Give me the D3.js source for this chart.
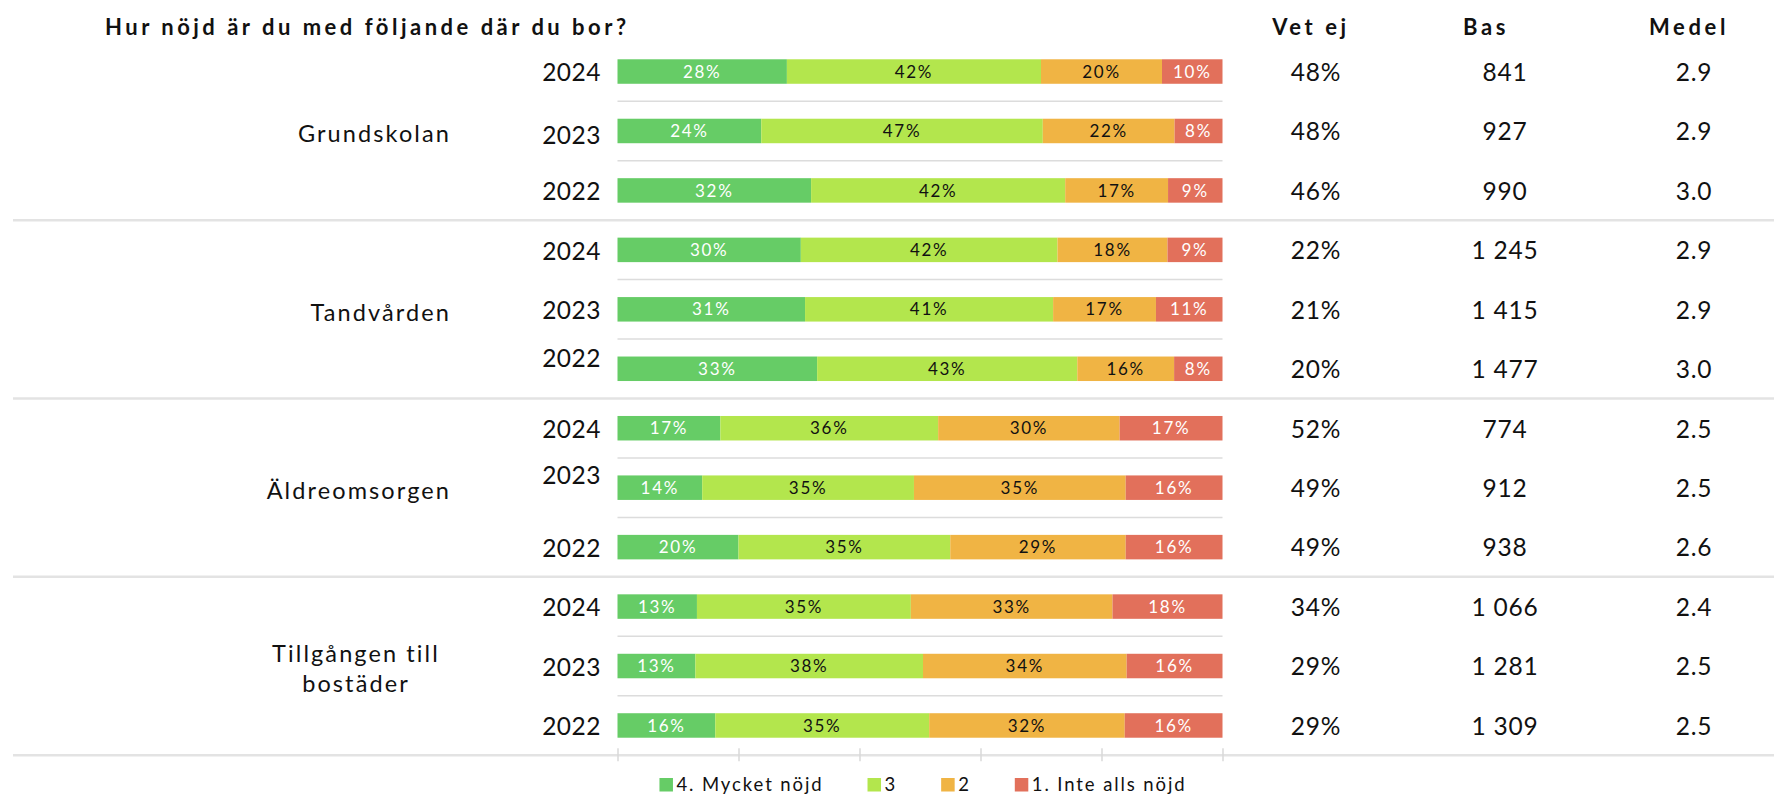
<!DOCTYPE html>
<html>
<head>
<meta charset="utf-8">
<title>Hur nöjd är du med följande där du bor?</title>
<script src="https://cdn.jsdelivr.net/npm/d3@7"></script>
<style>
  body { margin: 0; background: #fff; }
  text { font-family: Lato, "Noto Sans", sans-serif; fill: #111; }
</style>
</head>
<body>
<svg id="chart" width="1774" height="795"></svg>
<script>
// --- data ---
const groups = ["Grundskolan", "Tandvården", "Äldreomsorgen", "Tillgången till\nbostäder"];
const years = ["2024", "2023", "2022"];
const keys = ["4. Mycket nöjd", "3", "2", "1. Inte alls nöjd"];

// one value per row, rows go group by group, 2024 -> 2022
const mycketNojd = [28, 24, 32, 30, 31, 33, 17, 14, 20, 13, 13, 16];
const nojd3      = [42, 47, 42, 42, 41, 43, 36, 35, 35, 35, 38, 35];
const nojd2      = [20, 22, 17, 18, 17, 16, 30, 35, 29, 33, 34, 32];
const inteAlls   = [10,  8,  9,  9, 11,  8, 17, 16, 16, 18, 16, 16];

const vetEj = [48, 48, 46, 22, 21, 20, 52, 49, 49, 34, 29, 29];
const bas   = [841, 927, 990, 1245, 1415, 1477, 774, 912, 938, 1066, 1281, 1309];
const medel = [2.9, 2.9, 3.0, 2.9, 2.9, 3.0, 2.5, 2.5, 2.6, 2.4, 2.5, 2.5];

const headers = ["Vet ej", "Bas", "Medel"];
const title = "Hur nöjd är du med följande där du bor?";

// --- look ---
const colors = ["#66cc66", "#b3e64d", "#f0b444", "#e2705b"];
const labelFill = ["#fff", "#111", "#111", "#fff"];
// a few year labels sit off-centre in the original
const yearNudge = [0, 3, 0, 0, 0, -12, 0, -13, 0, 0, 0, 0];

const svg = d3.select("#chart");

const series = [mycketNojd, nojd3, nojd2, inteAlls];
const rows = [];
groups.forEach((g, gi) => years.forEach((yr, yi) => {
  const i = gi * 3 + yi;
  const vals = series.map(s => s[i]);
  const total = d3.sum(vals);
  let acc = 0;
  const segs = vals.map((v, k) => {
    const s = {key: keys[k], k, v, x0: acc / total};
    acc += v;
    s.x1 = acc / total;
    return s;
  });
  rows.push({i, group: g, year: yr, segs});
}));

const x = d3.scaleLinear().domain([0, 1]).range([617.5, 1222.5]);
const y = d3.scaleBand().domain(d3.range(rows.length))
  .range([41.8, 755.2]).paddingInner(0.588).paddingOuter(0.294);
const step = y.step();
const yTop = y.range()[0];

// grid lines between rows (short) and between groups (full width)
d3.range(1, rows.length + 1).forEach(k => {
  const yy = yTop + k * step;
  if (k % 3 === 0) {
    svg.append("line").attr("x1", 13).attr("x2", 1774).attr("y1", yy).attr("y2", yy)
      .attr("stroke", "#e3e3e3").attr("stroke-width", 2.5);
  } else {
    svg.append("line").attr("x1", x(0)).attr("x2", x(1)).attr("y1", yy).attr("y2", yy)
      .attr("stroke", "#dcdcdc").attr("stroke-width", 1.5);
  }
});

// bottom ticks
const axis = svg.append("g").attr("transform", `translate(0,${y.range()[1] - 7})`)
  .call(d3.axisBottom(x).tickValues(d3.range(0, 1.0001, 0.2)).tickSize(13).tickFormat(""));
axis.select(".domain").remove();
axis.selectAll(".tick line").attr("stroke", "#d9d9d9").attr("stroke-width", 1.5);

// bars
const rowG = svg.append("g").selectAll("g").data(rows).join("g")
  .attr("transform", d => `translate(0,${y(d.i)})`);

rowG.selectAll("rect").data(d => d.segs).join("rect")
  .attr("x", d => x(d.x0))
  .attr("width", d => x(d.x1) - x(d.x0))
  .attr("y", 0)
  .attr("height", y.bandwidth())
  .attr("fill", d => colors[d.k]);

rowG.selectAll("text.seg").data(d => d.segs).join("text")
  .attr("class", "seg")
  .attr("x", d => (x(d.x0) + x(d.x1)) / 2)
  .attr("y", y.bandwidth() / 2)
  .attr("dy", "0.36em")
  .attr("text-anchor", "middle")
  .style("font-size", "17px")
  .style("letter-spacing", "1.7px")
  .style("fill", d => labelFill[d.k])
  .text(d => d.v + "%");

// year labels
svg.append("g").selectAll("text").data(rows).join("text")
  .attr("x", 601)
  .attr("y", d => y(d.i) + y.bandwidth() / 2 + yearNudge[d.i])
  .attr("dy", "0.4em")
  .attr("text-anchor", "end")
  .style("font-size", "24.5px")
  .style("letter-spacing", "0.5px")
  .text(d => d.year);

// group labels
groups.forEach((g, gi) => {
  const mid = y(gi * 3 + 1) + y.bandwidth() / 2;
  const lines = g.split("\n");
  const t = svg.append("text")
    .attr("text-anchor", lines.length > 1 ? "middle" : "end")
    .style("font-size", "23.5px")
    .style("letter-spacing", "2.1px");
  lines.forEach((ln, li) => {
    t.append("tspan")
      .attr("x", lines.length > 1 ? 356 : 451)
      .attr("y", mid + (li - (lines.length - 1) / 2) * 30 + 3)
      .attr("dy", "0.36em")
      .text(ln);
  });
});

// right-hand columns
const fmtBas = d3.formatLocale({decimal: ".", thousands: " ", grouping: [3], currency: ["", ""]}).format(",d");
const cols = [
  {head: headers[0], hx: 1309, vx: 1316, vals: vetEj, f: v => v + "%"},
  {head: headers[1], hx: 1484, vx: 1505, vals: bas, f: fmtBas},
  {head: headers[2], hx: 1687, vx: 1694, vals: medel, f: d3.format(".1f")}
];
cols.forEach(c => {
  svg.append("text").attr("x", c.hx + 2).attr("y", 34.5).attr("text-anchor", "middle")
    .style("font-size", "22px").style("font-weight", "bold").style("letter-spacing", "3.6px")
    .text(c.head);
  svg.append("g").selectAll("text").data(rows).join("text")
    .attr("x", c.vx)
    .attr("y", d => y(d.i) + y.bandwidth() / 2)
    .attr("dy", "0.38em")
    .attr("text-anchor", "middle")
    .style("font-size", "24.5px")
    .style("letter-spacing", "0.8px")
    .text(d => c.f(c.vals[d.i]));
});

// title
svg.append("text").attr("x", 105).attr("y", 34.5)
  .style("font-size", "22px").style("font-weight", "bold").style("letter-spacing", "3.5px")
  .text(title);

// legend
const legGap = 44;
const leg = svg.append("g");
let lx = 0;
keys.forEach((k, ki) => {
  const item = leg.append("g").attr("transform", `translate(${lx},0)`);
  item.append("rect").attr("x", 0).attr("y", 778).attr("width", 13.5).attr("height", 13.5)
    .attr("fill", colors[ki]);
  const t = item.append("text").attr("x", 17).attr("y", 790.7)
    .style("font-size", "18.5px").style("letter-spacing", "1.9px").text(k);
  lx += 17 + t.node().getComputedTextLength() + legGap;
});
const legW = lx - legGap;
leg.attr("transform", `translate(${923 - legW / 2},0)`);
</script>
</body>
</html>
